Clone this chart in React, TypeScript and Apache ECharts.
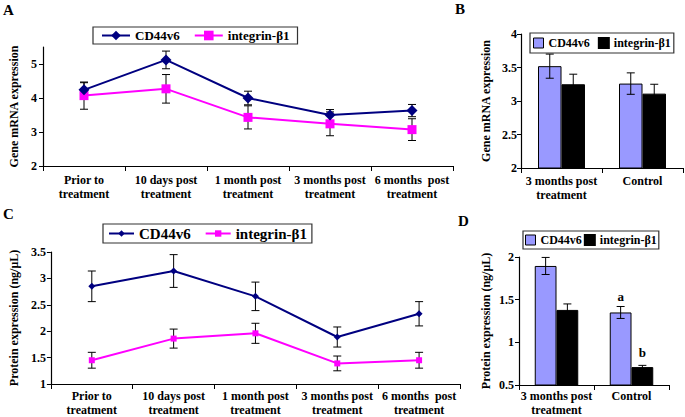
import React, { useEffect, useRef } from "react";
import * as echarts from "echarts";

const timeCategories = [
  "Prior to\ntreatment",
  "10 days post\ntreatment",
  "1 month post\ntreatment",
  "3 months post\ntreatment",
  "6 months  post\ntreatment",
];
const groupCategories = ["3 months post\ntreatment", "Control"];

// Panel A: gene mRNA expression over time
const mrnaCD44 = [4.24, 5.12, 4.0, 3.5, 3.63];
const mrnaCD44Err = [0.21, 0.26, 0.2, 0.16, 0.18];
const mrnaITG = [4.07, 4.27, 3.43, 3.24, 3.07];
const mrnaITGErr = [0.4, 0.42, 0.34, 0.35, 0.32];

// Panel B: gene mRNA expression, 3 months vs control
const mrnaBarCD44 = [3.52, 3.26];
const mrnaBarCD44Err = [0.18, 0.16];
const mrnaBarITG = [3.25, 3.11];
const mrnaBarITGErr = [0.15, 0.14];

// Panel C: protein expression over time
const protCD44 = [2.85, 3.14, 2.66, 1.89, 2.33];
const protCD44Err = [0.29, 0.31, 0.27, 0.19, 0.23];
const protITG = [1.45, 1.86, 1.96, 1.39, 1.45];
const protITGErr = [0.15, 0.18, 0.19, 0.14, 0.15];

// Panel D: protein expression, 3 months vs control
const protBarCD44 = [1.895, 1.35];
const protBarCD44Err = [0.1, 0.07];
const protBarITG = [1.38, 0.71];
const protBarITGErr = [0.07, 0.02];
const protBarCD44Marks = ["", "a"];
const protBarITGMarks = ["", "b"];

const FONT = "Liberation Serif";
const NAVY = "#000080";
const MAGENTA = "#FF00FF";
const LAVENDER = "#9999FF";
const BAR_FRAC = 0.29;

const errData = (vals: number[], errs: number[]) =>
  vals.map((v, i) => [i, v - errs[i], v + errs[i]]);

const makeErr = (sign: number, frac: number, capHalf: number) => (params: any, api: any) => {
  const x = api.value(0);
  const lo = api.value(1);
  const hi = api.value(2);
  const pHi = api.coord([x, hi]);
  const pLo = api.coord([x, lo]);
  const band = api.size([1, 0])[0];
  const cx = pHi[0] + (sign * band * frac) / 2;
  const style = { stroke: "#000", lineWidth: 1 };
  return {
    type: "group",
    children: [
      { type: "line", shape: { x1: cx, y1: pHi[1], x2: cx, y2: pLo[1] }, style },
      { type: "line", shape: { x1: cx - capHalf, y1: pHi[1], x2: cx + capHalf, y2: pHi[1] }, style },
      { type: "line", shape: { x1: cx - capHalf, y1: pLo[1], x2: cx + capHalf, y2: pLo[1] }, style },
    ],
  };
};

const axisLineStyle = { lineStyle: { color: "#000", width: 1.2 } };
const labelStyle = (size: number) => ({
  color: "#000",
  fontFamily: FONT,
  fontWeight: "bold" as const,
  fontSize: size,
});

const xAxisFor = (gridIndex: number, data: string[], margin: number) => ({
  type: "category",
  gridIndex,
  data,
  axisLine: axisLineStyle,
  axisTick: { show: true, length: 5, lineStyle: { color: "#000" } },
  axisLabel: { ...labelStyle(12), interval: 0, lineHeight: 14, margin },
  splitLine: { show: false },
});

const yAxisFor = (
  gridIndex: number,
  min: number,
  max: number,
  interval: number,
  name: string,
  nameGap: number,
  margin: number,
  custom?: number[]
) => ({
  type: "value",
  gridIndex,
  min,
  max,
  interval,
  name,
  nameLocation: "middle",
  nameGap,
  nameRotate: 90,
  nameTextStyle: labelStyle(12),
  axisLine: { show: true, ...axisLineStyle },
  axisTick: custom
    ? { show: true, length: 4, lineStyle: { color: "#000" }, customValues: custom }
    : { show: true, length: 4, lineStyle: { color: "#000" } },
  axisLabel: custom
    ? { ...labelStyle(12), margin, customValues: custom }
    : { ...labelStyle(12), margin },
  splitLine: { show: false },
});

const stripPrefix = (n: string) => n.slice(2);

const option: any = {
  animation: false,
  backgroundColor: "#fff",
  textStyle: { fontFamily: FONT },
  graphic: [
    { type: "text", left: 3, top: 2, style: { text: "A", ...labelStyle(15), fill: "#000" } },
    { type: "text", left: 455, top: 1, style: { text: "B", ...labelStyle(15), fill: "#000" } },
    { type: "text", left: 3, top: 206, style: { text: "C", ...labelStyle(15), fill: "#000" } },
    { type: "text", left: 458, top: 213, style: { text: "D", ...labelStyle(15), fill: "#000" } },
  ],
  grid: [
    { left: 36, top: 47, width: 417, height: 119 },
    { left: 521, top: 34, width: 162, height: 134 },
    { left: 41, top: 252, width: 419, height: 134 },
    { left: 519, top: 257, width: 150, height: 132 },
  ],
  legend: [
    {
      data: ["A:CD44v6", "A:integrin-β1"],
      formatter: stripPrefix,
      left: 93,
      top: 27,
      orient: "horizontal",
      itemWidth: 28,
      itemHeight: 12,
      itemGap: 14,
      padding: [2, 8],
      borderColor: "#333",
      borderWidth: 1.2,
      textStyle: labelStyle(13),
    },
    {
      data: [
        { name: "B:CD44v6", icon: "rect", itemStyle: { color: LAVENDER, borderColor: "#000", borderWidth: 1 } },
        { name: "B:integrin-β1", icon: "rect", itemStyle: { color: "#000" } },
      ],
      formatter: stripPrefix,
      left: 530,
      top: 33,
      itemWidth: 10,
      itemHeight: 10,
      itemGap: 8,
      padding: [4, 3],
      borderColor: "#333",
      borderWidth: 1.2,
      textStyle: labelStyle(12),
    },
    {
      data: ["C:CD44v6", "C:integrin-β1"],
      formatter: stripPrefix,
      left: 103,
      top: 224,
      itemWidth: 25,
      itemHeight: 8,
      itemGap: 14,
      padding: [2, 5],
      borderColor: "#333",
      borderWidth: 1.2,
      textStyle: labelStyle(15),
    },
    {
      data: [
        { name: "D:CD44v6", icon: "rect", itemStyle: { color: LAVENDER, borderColor: "#000", borderWidth: 1 } },
        { name: "D:integrin-β1", icon: "rect", itemStyle: { color: "#000" } },
      ],
      formatter: stripPrefix,
      left: 523,
      top: 231,
      itemWidth: 10,
      itemHeight: 10,
      itemGap: 2,
      padding: [3, 2],
      borderColor: "#333",
      borderWidth: 1.2,
      textStyle: labelStyle(12),
    },
  ],
  xAxis: [
    xAxisFor(0, timeCategories, 7),
    xAxisFor(1, groupCategories, 6),
    xAxisFor(2, timeCategories, 5),
    xAxisFor(3, groupCategories, 4),
  ],
  yAxis: [
    yAxisFor(0, 2, 5.5, 1, "Gene mRNA expression", 23, 6, [2, 3, 4, 5]),
    yAxisFor(1, 2, 4, 0.5, "Gene mRNA expression", 29, 4),
    yAxisFor(2, 1, 3.5, 0.5, "Protein expression (ng/μL)", 23, 5),
    yAxisFor(3, 0.5, 2, 0.5, "Protein expression (ng/μL)", 27, 5),
  ],
  series: [
    // Panel A
    {
      type: "custom", name: "errA1", xAxisIndex: 0, yAxisIndex: 0, z: 1,
      renderItem: makeErr(0, 0, 4), encode: { x: 0, y: [1, 2] },
      data: errData(mrnaCD44, mrnaCD44Err),
    },
    {
      type: "custom", name: "errA2", xAxisIndex: 0, yAxisIndex: 0, z: 1,
      renderItem: makeErr(0, 0, 4), encode: { x: 0, y: [1, 2] },
      data: errData(mrnaITG, mrnaITGErr),
    },
    {
      type: "line", name: "A:CD44v6", xAxisIndex: 0, yAxisIndex: 0, z: 3,
      data: mrnaCD44, symbol: "diamond", symbolSize: 11,
      lineStyle: { color: NAVY, width: 2 }, itemStyle: { color: NAVY },
    },
    {
      type: "line", name: "A:integrin-β1", xAxisIndex: 0, yAxisIndex: 0, z: 2,
      data: mrnaITG, symbol: "rect", symbolSize: 9,
      lineStyle: { color: MAGENTA, width: 2 }, itemStyle: { color: MAGENTA },
    },
    // Panel B
    {
      type: "bar", name: "B:CD44v6", xAxisIndex: 1, yAxisIndex: 1,
      data: mrnaBarCD44, barWidth: BAR_FRAC * 100 + "%", barGap: "0%",
      itemStyle: { color: LAVENDER, borderColor: "#000", borderWidth: 1 },
    },
    {
      type: "bar", name: "B:integrin-β1", xAxisIndex: 1, yAxisIndex: 1,
      data: mrnaBarITG, barWidth: BAR_FRAC * 100 + "%", barGap: "0%",
      itemStyle: { color: "#000", borderColor: "#000", borderWidth: 1 },
    },
    {
      type: "custom", name: "errB1", xAxisIndex: 1, yAxisIndex: 1, z: 5,
      renderItem: makeErr(-1, BAR_FRAC, 4), encode: { x: 0, y: [1, 2] },
      data: errData(mrnaBarCD44, mrnaBarCD44Err),
    },
    {
      type: "custom", name: "errB2", xAxisIndex: 1, yAxisIndex: 1, z: 5,
      renderItem: makeErr(1, BAR_FRAC, 4), encode: { x: 0, y: [1, 2] },
      data: errData(mrnaBarITG, mrnaBarITGErr),
    },
    // Panel C
    {
      type: "custom", name: "errC1", xAxisIndex: 2, yAxisIndex: 2, z: 1,
      renderItem: makeErr(0, 0, 4), encode: { x: 0, y: [1, 2] },
      data: errData(protCD44, protCD44Err),
    },
    {
      type: "custom", name: "errC2", xAxisIndex: 2, yAxisIndex: 2, z: 1,
      renderItem: makeErr(0, 0, 4), encode: { x: 0, y: [1, 2] },
      data: errData(protITG, protITGErr),
    },
    {
      type: "line", name: "C:CD44v6", xAxisIndex: 2, yAxisIndex: 2, z: 3,
      data: protCD44, symbol: "diamond", symbolSize: 7,
      lineStyle: { color: NAVY, width: 2 }, itemStyle: { color: NAVY },
    },
    {
      type: "line", name: "C:integrin-β1", xAxisIndex: 2, yAxisIndex: 2, z: 2,
      data: protITG, symbol: "rect", symbolSize: 6,
      lineStyle: { color: MAGENTA, width: 2 }, itemStyle: { color: MAGENTA },
    },
    // Panel D
    {
      type: "bar", name: "D:CD44v6", xAxisIndex: 3, yAxisIndex: 3,
      data: protBarCD44.map((v, i) => ({
        value: v,
        label: {
          show: protBarCD44Marks[i] !== "",
          position: "top",
          distance: 9,
          formatter: protBarCD44Marks[i],
          ...labelStyle(13),
        },
      })),
      barWidth: BAR_FRAC * 100 + "%", barGap: "0%",
      itemStyle: { color: LAVENDER, borderColor: "#000", borderWidth: 1 },
    },
    {
      type: "bar", name: "D:integrin-β1", xAxisIndex: 3, yAxisIndex: 3,
      data: protBarITG.map((v, i) => ({
        value: v,
        label: {
          show: protBarITGMarks[i] !== "",
          position: "top",
          distance: 8,
          formatter: protBarITGMarks[i],
          ...labelStyle(13),
        },
      })),
      barWidth: BAR_FRAC * 100 + "%", barGap: "0%",
      itemStyle: { color: "#000", borderColor: "#000", borderWidth: 1 },
    },
    {
      type: "custom", name: "errD1", xAxisIndex: 3, yAxisIndex: 3, z: 5,
      renderItem: makeErr(-1, BAR_FRAC, 4), encode: { x: 0, y: [1, 2] },
      data: errData(protBarCD44, protBarCD44Err),
    },
    {
      type: "custom", name: "errD2", xAxisIndex: 3, yAxisIndex: 3, z: 5,
      renderItem: makeErr(1, BAR_FRAC, 4), encode: { x: 0, y: [1, 2] },
      data: errData(protBarITG, protBarITGErr),
    },
  ],
};

export default function App() {
  const ref = useRef<HTMLDivElement>(null);
  useEffect(() => {
    if (!ref.current) return;
    const chart = echarts.init(ref.current, null, { renderer: "svg" });
    chart.setOption(option);
    return () => chart.dispose();
  }, []);
  return (
    <div
      ref={ref}
      style={{ position: "fixed", left: 0, top: 0, width: 685, height: 417, background: "#fff" }}
    />
  );
}
